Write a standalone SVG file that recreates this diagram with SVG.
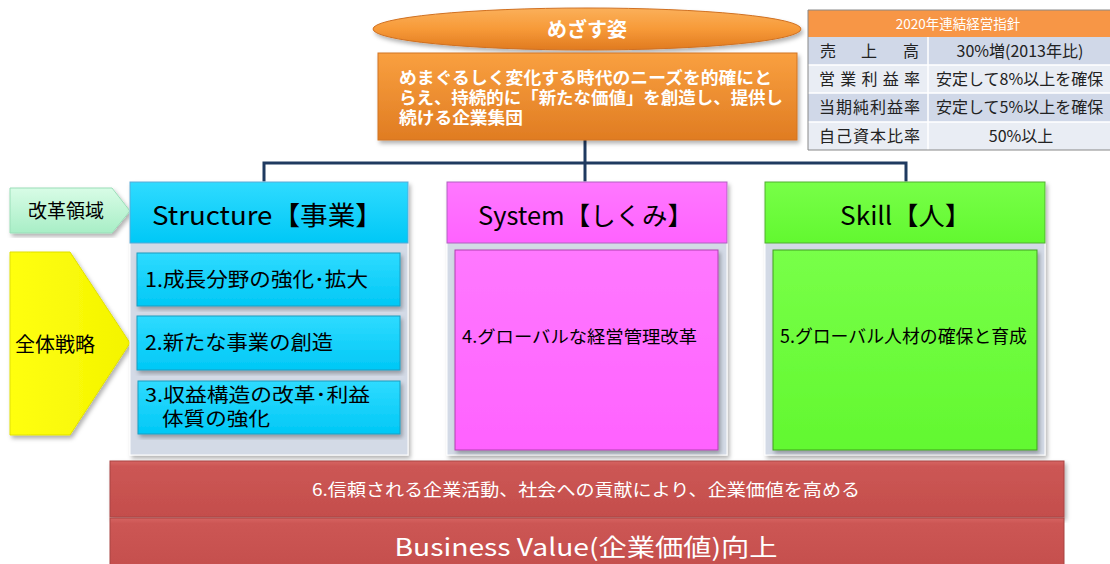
<svg xmlns="http://www.w3.org/2000/svg" width="1110" height="564" viewBox="0 0 1110 564">
<defs>
<style>
text{font-family:"Noto Sans CJK JP","Noto Sans",sans-serif;}
.w{fill:#ffffff;}
.k{fill:#000000;}
.conn{stroke:#1F3A60;stroke-width:3;fill:none;}
.panel{fill:#D3DAE6;stroke:#FFFFFF;stroke-width:1;filter:url(#sh);}
.cell1{fill:#D0D8E8;}
.cell2{fill:#E9EDF4;}
.tb{font-size:16px;fill:#222;}
</style>
<filter id="sh" x="-5%" y="-5%" width="112%" height="115%">
<feDropShadow dx="2" dy="3" stdDeviation="2" flood-color="#000" flood-opacity="0.3"/>
</filter>
<linearGradient id="gOr" x1="0" y1="0" x2="0" y2="1">
<stop offset="0" stop-color="#F9A040"/><stop offset="1" stop-color="#E07C22"/>
</linearGradient>
<linearGradient id="gEl" x1="0" y1="0" x2="0" y2="1">
<stop offset="0" stop-color="#FBB05A"/><stop offset="0.5" stop-color="#F79A38"/><stop offset="1" stop-color="#E07A20"/>
</linearGradient>
<linearGradient id="gCy" x1="0" y1="0" x2="0" y2="1">
<stop offset="0" stop-color="#2FDBFF"/><stop offset="1" stop-color="#00C8F6"/>
</linearGradient>
<linearGradient id="gPk" x1="0" y1="0" x2="0" y2="1">
<stop offset="0" stop-color="#FF78FF"/><stop offset="1" stop-color="#FF62FF"/>
</linearGradient>
<linearGradient id="gGr" x1="0" y1="0" x2="0" y2="1">
<stop offset="0" stop-color="#78FF48"/><stop offset="1" stop-color="#62F830"/>
</linearGradient>
<linearGradient id="gRd" x1="0" y1="0" x2="0" y2="1">
<stop offset="0" stop-color="#D66462"/><stop offset="0.1" stop-color="#CC5654"/><stop offset="1" stop-color="#C44E4C"/>
</linearGradient>
<linearGradient id="gLg" x1="0" y1="0" x2="0" y2="1">
<stop offset="0" stop-color="#D8FCE6"/><stop offset="1" stop-color="#A8EEC6"/>
</linearGradient>
<linearGradient id="gYe" x1="0" y1="0" x2="1" y2="0">
<stop offset="0" stop-color="#FFFF10"/><stop offset="1" stop-color="#F4F400"/>
</linearGradient>
</defs>
<rect width="1110" height="564" fill="#FFFFFF"/>

<g id="connectors">
<path class="conn" d="M585 140 V182"/>
<path class="conn" d="M264 182 V163 H906 V182"/>
</g>

<g id="vision-title">
<ellipse cx="587" cy="29" rx="214" ry="21" fill="url(#gEl)" stroke="#D07020" stroke-width="1" filter="url(#sh)"/>
<text x="587" y="37" font-size="20" font-weight="bold" text-anchor="middle" class="w">めざす姿</text>
</g>

<g id="vision-box">
<rect x="378" y="53" width="419" height="87" fill="url(#gOr)" stroke="#D27522" stroke-width="1" filter="url(#sh)"/>
<text x="399" y="84" font-size="17" font-weight="bold" textLength="373" lengthAdjust="spacingAndGlyphs" class="w">めまぐるしく変化する時代のニーズを的確にと</text>
<text x="399" y="104" font-size="17" font-weight="bold" textLength="384" lengthAdjust="spacingAndGlyphs" class="w">らえ、持続的に「新たな価値」を創造し、提供し</text>
<text x="399" y="124" font-size="17" font-weight="bold" textLength="124" lengthAdjust="spacingAndGlyphs" class="w">続ける企業集団</text>
</g>

<g id="table">
<rect x="808" y="10" width="310" height="27" fill="#F79646"/>
<text x="958" y="29" font-size="13.5" text-anchor="middle" class="w">2020年連結経営指針</text>
<rect x="808" y="37" width="310" height="28" class="cell1"/>
<rect x="808" y="65" width="310" height="28" class="cell2"/>
<rect x="808" y="93" width="310" height="29" class="cell1"/>
<rect x="808" y="122" width="310" height="28" class="cell2"/>
<path d="M928 37 V150 M808 65 H1110 M808 93 H1110 M808 122 H1110" stroke="#FFFFFF" stroke-width="1.5" fill="none"/>
<path d="M1118 10 H808 V150 H1118" stroke="#888" stroke-width="1" fill="none"/>
<text class="tb" x="820 861 903" y="57">売上高</text>
<text class="tb" x="1020" y="57" text-anchor="middle" font-size="15">30%増(2013年比)</text>
<text class="tb" x="819" y="85" textLength="101">営業利益率</text>
<text class="tb" x="936" y="85" font-size="15.5">安定して8%以上を確保</text>
<text class="tb" x="819" y="113" textLength="101">当期純利益率</text>
<text class="tb" x="936" y="113" font-size="15.5">安定して5%以上を確保</text>
<text class="tb" x="819" y="142" textLength="101">自己資本比率</text>
<text class="tb" x="1021" y="142" text-anchor="middle" font-size="15.5">50%以上</text>
</g>

<g id="label-reform">
<path d="M10 188 H112 L130 211 L112 233 H10 Z" fill="url(#gLg)" stroke="#9ADDB8" stroke-width="1" filter="url(#sh)"/>
<text x="66" y="218" font-size="19" text-anchor="middle" class="k">改革領域</text>
</g>

<g id="label-strategy">
<path d="M10 252 H70 L130 343 L70 435 H10 Z" fill="url(#gYe)" stroke="#E0E000" stroke-width="1" filter="url(#sh)"/>
<text x="55" y="352" font-size="20" text-anchor="middle" class="k">全体戦略</text>
</g>

<g id="structure">
<rect x="130" y="182" width="278" height="273" class="panel"/>
<rect x="130" y="182" width="278" height="61" fill="url(#gCy)" stroke="#5BA9D6" stroke-width="1"/>
<text x="152" y="225" font-size="26" textLength="231" lengthAdjust="spacingAndGlyphs" class="k">Structure【事業】</text>
</g>

<g id="s1">
<rect x="137" y="253" width="263" height="53" fill="url(#gCy)" stroke="#1C9CC0" stroke-width="1" filter="url(#sh)"/>
<text x="145" y="287" font-size="20" textLength="223" lengthAdjust="spacingAndGlyphs" class="k">1.成長分野の強化･拡大</text>
</g>

<g id="s2">
<rect x="137" y="316" width="263" height="54" fill="url(#gCy)" stroke="#1C9CC0" stroke-width="1" filter="url(#sh)"/>
<text x="145" y="350" font-size="20" textLength="188" lengthAdjust="spacingAndGlyphs" class="k">2.新たな事業の創造</text>
</g>

<g id="s3">
<rect x="138" y="381" width="262" height="53" fill="url(#gCy)" stroke="#1C9CC0" stroke-width="1" filter="url(#sh)"/>
<text x="145" y="402" font-size="19" textLength="225" lengthAdjust="spacingAndGlyphs" class="k">3.収益構造の改革･利益</text>
<text x="162" y="426" font-size="19" textLength="108" lengthAdjust="spacingAndGlyphs" class="k">体質の強化</text>
</g>

<g id="system">
<rect x="447" y="182" width="280" height="273" class="panel"/>
<rect x="447" y="182" width="280" height="61" fill="url(#gPk)" stroke="#B060C0" stroke-width="1"/>
<text x="478" y="225" font-size="25" textLength="215" lengthAdjust="spacingAndGlyphs" class="k">System【しくみ】</text>
<rect x="455" y="250" width="263" height="200" fill="url(#gPk)" stroke="#B040B0" stroke-width="1" filter="url(#sh)"/>
<text x="462" y="343" font-size="17" textLength="235" lengthAdjust="spacingAndGlyphs" class="k">4.グローバルな経営管理改革</text>
</g>

<g id="skill">
<rect x="765" y="182" width="280" height="273" class="panel"/>
<rect x="765" y="182" width="280" height="61" fill="url(#gGr)" stroke="#50B030" stroke-width="1"/>
<text x="840" y="225" font-size="25" textLength="131" lengthAdjust="spacingAndGlyphs" class="k">Skill【人】</text>
<rect x="773" y="250" width="264" height="200" fill="url(#gGr)" stroke="#40A020" stroke-width="1" filter="url(#sh)"/>
<text x="780" y="343" font-size="18" textLength="247" lengthAdjust="spacingAndGlyphs" class="k">5.グローバル人材の確保と育成</text>
</g>

<g id="csr">
<rect x="110" y="461" width="954" height="56" fill="url(#gRd)" stroke="#A84442" stroke-width="1" filter="url(#sh)"/>
<text x="586" y="496" font-size="17" text-anchor="middle" textLength="548" lengthAdjust="spacingAndGlyphs" class="w">6.信頼される企業活動、社会への貢献により、企業価値を高める</text>
</g>

<g id="business-value">
<rect x="110" y="518" width="954" height="56" fill="url(#gRd)" stroke="#A84442" stroke-width="1"/>
<text x="586" y="556" font-size="24" text-anchor="middle" textLength="383" lengthAdjust="spacingAndGlyphs" class="w">Business Value(企業価値)向上</text>
</g>
</svg>
